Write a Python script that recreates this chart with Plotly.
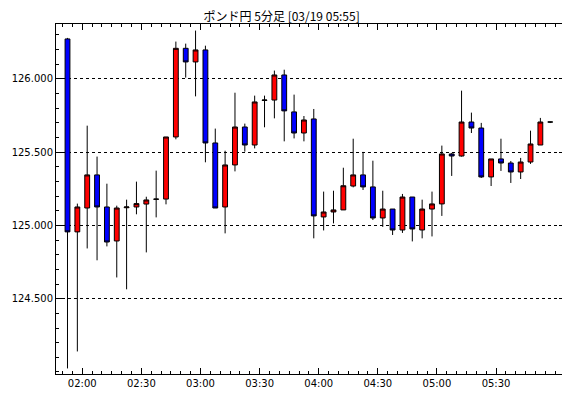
import plotly.graph_objects as go
import pandas as pd

DAY = "2024-03-19 "

# Candle start times (5-minute bars)
times = [
    "01:50", "01:55", "02:00", "02:05", "02:10", "02:15", "02:20", "02:25", "02:30", "02:35",
    "02:40", "02:45", "02:50", "02:55", "03:00", "03:05", "03:10", "03:15", "03:20", "03:25",
    "03:30", "03:35", "03:40", "03:45", "03:50", "03:55", "04:00", "04:05", "04:10", "04:15",
    "04:20", "04:25", "04:30", "04:35", "04:40", "04:45", "04:50", "04:55", "05:00", "05:05",
    "05:10", "05:15", "05:20", "05:25", "05:30", "05:35", "05:40", "05:45", "05:50", "05:55",
]

opens = [
    126.273, 124.956, 125.119, 125.345, 125.126, 124.894, 125.121, 125.126, 125.146, 125.178,
    125.180, 125.604, 126.209, 126.116, 126.198, 125.563, 125.126, 125.413, 125.672, 125.549,
    125.853, 125.856, 126.027, 125.775, 125.631, 125.727, 125.058, 125.092, 125.106, 125.269,
    125.345, 125.263, 125.051, 125.112, 124.969, 125.194, 124.969, 125.112, 125.147, 125.488,
    125.474, 125.706, 125.665, 125.331, 125.454, 125.426, 125.365, 125.433, 125.549, 125.706,
]
highs = [
    126.280, 125.149, 125.681, 125.470, 125.285, 125.135, 125.176, 125.299, 125.196, 125.374,
    125.604, 126.255, 126.241, 126.330, 126.227, 125.661, 125.510, 125.906, 125.695, 125.886,
    125.886, 126.057, 126.063, 125.893, 125.747, 125.795, 125.231, 125.237, 125.394, 125.592,
    125.502, 125.442, 125.237, 125.112, 125.215, 125.194, 125.176, 125.231, 125.545, 125.495,
    125.920, 125.770, 125.700, 125.454, 125.592, 125.440, 125.461, 125.647, 125.734, 125.708,
]
lows = [
    124.024, 124.140, 124.843, 124.762, 124.857, 124.645, 124.564, 125.076, 124.816, 125.055,
    125.144, 125.588, 126.009, 125.881, 125.431, 125.119, 124.946, 125.369, 125.504, 125.526,
    125.670, 125.731, 125.574, 125.594, 125.574, 124.912, 124.966, 125.014, 125.106, 125.260,
    125.242, 125.037, 124.990, 124.935, 124.949, 124.891, 124.912, 124.925, 125.065, 125.338,
    125.470, 125.631, 125.324, 125.269, 125.372, 125.290, 125.317, 125.420, 125.549, 125.699,
]
closes = [
    124.956, 125.126, 125.345, 125.126, 124.887, 125.119, 125.126, 125.149, 125.174, 125.180,
    125.604, 126.209, 126.116, 126.198, 125.563, 125.119, 125.413, 125.672, 125.549, 125.843,
    125.856, 126.027, 125.782, 125.631, 125.720, 125.065, 125.092, 125.106, 125.271, 125.345,
    125.263, 125.051, 125.112, 124.969, 125.194, 124.976, 125.112, 125.147, 125.488, 125.474,
    125.706, 125.665, 125.331, 125.454, 125.426, 125.365, 125.433, 125.556, 125.706, 125.706,
]

y_ticks = [124.5, 125.0, 125.5, 126.0]
x_tick_labels = ["02:00", "02:30", "03:00", "03:30", "04:00", "04:30", "05:00", "05:30"]
title_text = "ポンド円 5分足 [03/19 05:55]"

# Bars are drawn centred in their 5-minute interval
x_centres = [pd.Timestamp(DAY + t) + pd.Timedelta(minutes=2.5) for t in times]

fig = go.Figure(go.Candlestick(
    x=x_centres, open=opens, high=highs, low=lows, close=closes,
    increasing=dict(fillcolor="#ff0000", line=dict(color="#000000", width=1)),
    decreasing=dict(fillcolor="#0000ff", line=dict(color="#000000", width=1)),
    whiskerwidth=0,
    hoverinfo="skip",
))

axis_font = dict(family="DejaVu Sans", size=10, color="#000000")

# The page body adds an 8px margin, so the figure is sized to fit inside it
fig.update_layout(
    width=562, height=390,
    margin=dict(l=41, r=4, t=16, b=24),
    paper_bgcolor="#ffffff", plot_bgcolor="#ffffff",
    showlegend=False,
    boxgap=0.3,
    title=dict(text=title_text, x=0.487, xanchor="center",
               yref="container", y=0.978, yanchor="middle",
               font=dict(family="Noto Sans CJK JP", size=12, color="#000000")),
    xaxis=dict(
        type="date",
        range=[DAY + "01:46:40", DAY + "06:05:00"],
        rangeslider=dict(visible=False),
        tickvals=[DAY + t for t in x_tick_labels],
        ticktext=x_tick_labels,
        ticks="inside", ticklen=6, tickwidth=1, tickcolor="#000000",
        minor=dict(ticks="inside", ticklen=3, tickwidth=1, tickcolor="#000000",
                   dtick=300000, tick0=DAY + "02:00", showgrid=False),
        showline=True, linecolor="#000000", linewidth=1, mirror="ticks",
        showgrid=False, zeroline=False,
        tickfont=axis_font,
    ),
    yaxis=dict(
        range=[123.986, 126.375],
        tickvals=y_ticks,
        tickformat=".3f",
        ticks="inside", ticklen=6, tickwidth=1, tickcolor="#000000",
        minor=dict(ticks="inside", ticklen=3, tickwidth=1, tickcolor="#000000",
                   dtick=0.1, tick0=124.0, showgrid=False),
        showline=True, linecolor="#000000", linewidth=1, mirror="ticks",
        showgrid=True, gridcolor="#000000", gridwidth=1, griddash="dot",
        zeroline=False,
        tickfont=axis_font,
    ),
)

fig.write_html("out.html")
